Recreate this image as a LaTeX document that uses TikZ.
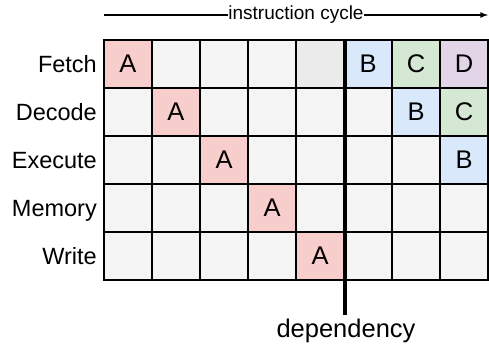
\documentclass[tikz,border=0pt]{standalone}
\usepackage{fontspec}
\setmainfont{Liberation Sans}
\usetikzlibrary{positioning}
\definecolor{InstrA}{HTML}{F8CECC}
\definecolor{InstrB}{HTML}{DAE8FC}
\definecolor{InstrC}{HTML}{D5E8D4}
\definecolor{InstrD}{HTML}{E1D5E7}
\definecolor{CellGrey}{HTML}{F5F5F5}
\definecolor{StallGrey}{HTML}{EBEBEB}

\begin{document}
\begin{tikzpicture}[x=1pt, y=-1pt, >={latex[scale=1.3]},
                      every node/.style={font=\fontsize{25.5}{30}\selectfont},
                      cell text/.store in=\celltext,
                      cell/.style={draw=black, line width=2pt, fill=CellGrey,
                                   minimum size=48pt, inner sep=0pt, cell text={}},
                      stage/.style={font=\fontsize{23.5}{28}\selectfont, inner sep=0pt,
                                    text height=17pt, text depth=0pt},
                      cell 1-1/.style={fill=InstrA, cell text=A},
                      cell 2-2/.style={fill=InstrA, cell text=A},
                      cell 3-3/.style={fill=InstrA, cell text=A},
                      cell 4-4/.style={fill=InstrA, cell text=A},
                      cell 5-5/.style={fill=InstrA, cell text=A},
                      cell 1-5/.style={fill=StallGrey},
                      cell 1-6/.style={fill=InstrB, cell text=B},
                      cell 2-7/.style={fill=InstrB, cell text=B},
                      cell 3-8/.style={fill=InstrB, cell text=B},
                      cell 1-7/.style={fill=InstrC, cell text=C},
                      cell 2-8/.style={fill=InstrC, cell text=C},
                      cell 1-8/.style={fill=InstrD, cell text=D}]
  \useasboundingbox (0,0) rectangle (489,346);
  % pipeline grid
  \foreach \r in {1,...,5}
    \foreach \c in {1,...,8}
      \node[cell, cell \r-\c/.try] (c\r\c) at (80+48*\c, 16+48*\r) {\celltext};
  % stage names
  \foreach \lbl [count=\r] in {Fetch,Decode,Execute,Memory,Write}
    \node[stage, left=6pt of c\r1] (stage\r) {\lbl};
  % time axis
  \coordinate (cyc0) at (104,15);
  \coordinate (cyc1) at (488,15);
  \draw[->, line width=1.6pt] (cyc0) -- node[fill=white, inner sep=0.5pt,
        font=\fontsize{19}{22}\selectfont] (cyclbl) {instruction cycle} (cyc1);
  % dependency marker
  \node[anchor=base] (dep) at (346,337) {dependency};
  \draw[line width=4pt] (c15.north east) -- (c15.north east |- dep.north);
\end{tikzpicture}
\end{document}
